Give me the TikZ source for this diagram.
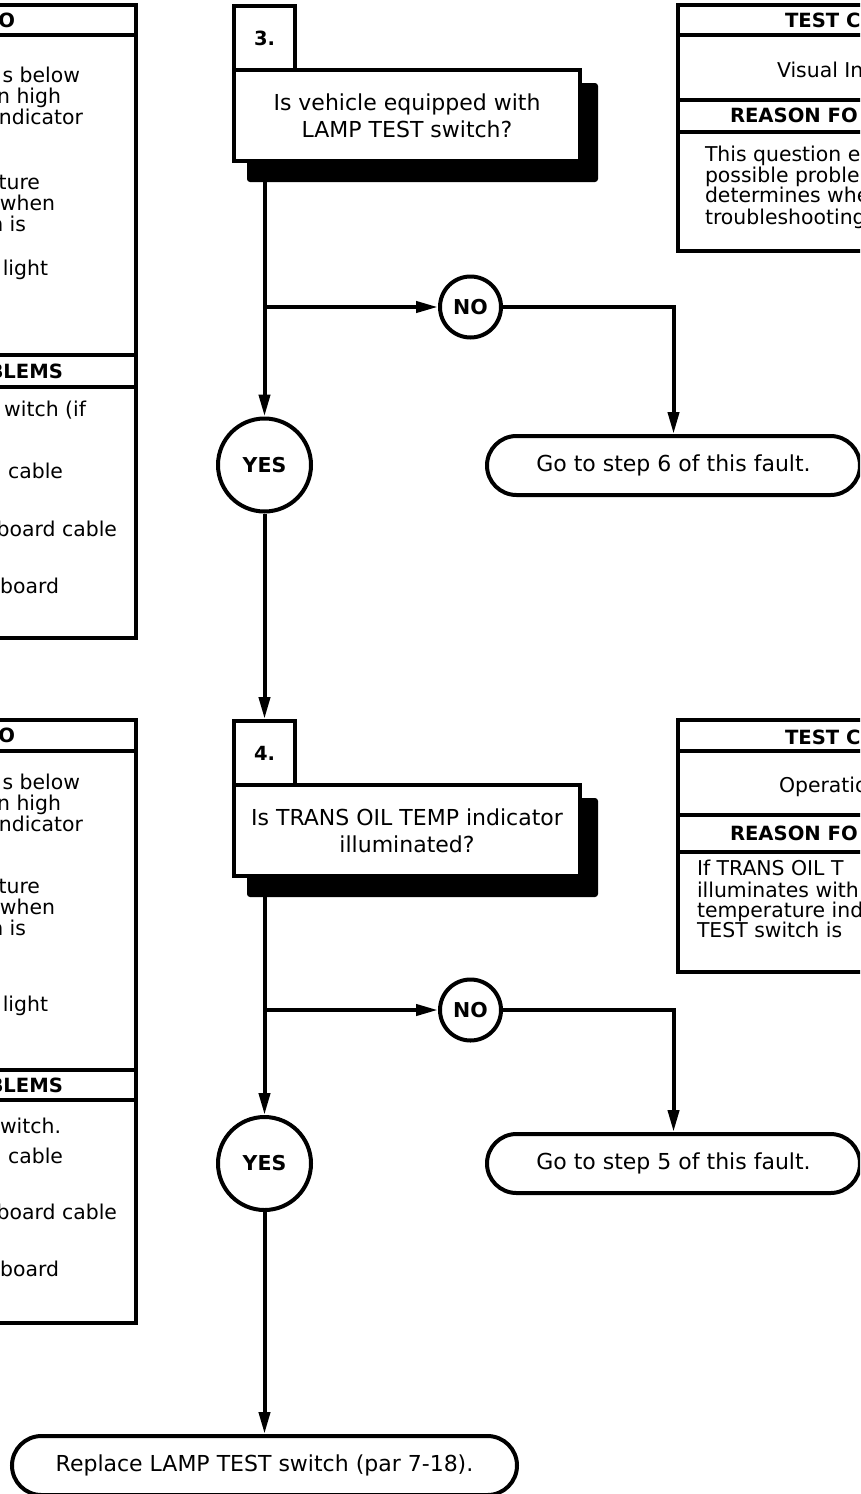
\documentclass[tikz,border=0pt]{standalone}
\usepackage{fontspec}
\setmainfont{DejaVu Sans}
\usetikzlibrary{
  arrows.meta,
  positioning,
  shapes.misc,
  backgrounds
}

\newcommand{\bodyfont}{\fontsize{20.4}{21}\selectfont}
\newcommand{\askfont}{\fontsize{22}{27}\selectfont}
\newcommand{\headfont}{\fontsize{19.6}{21}\selectfont\bfseries}

\begin{document}
\begin{tikzpicture}[
  x=1pt, y=-1pt,
  line width=4pt,
  flow/.style={-{Triangle[length=22pt,width=11pt]}},
  stepnum/.style={
    draw, fill=white, inner sep=0pt,
    minimum width=61pt, minimum height=64pt,
    font=\fontsize{19.5}{20}\selectfont\bfseries
  },
  askbox/.style={
    draw, fill=white, inner sep=0pt, align=center,
    minimum width=346pt, minimum height=91pt,
    font=\askfont
  },
  answer/.style={
    circle, draw, fill=white, inner sep=0pt,
    font=\fontsize{20.5}{22}\selectfont\bfseries
  },
  endbox/.style={
    rounded rectangle, draw, fill=white, inner sep=0pt,
    minimum height=59pt, font=\askfont
  },
  cuttext/.style={inner sep=0pt, font=\bodyfont},
  cuthead/.style={inner sep=0pt, font=\headfont}
]
\useasboundingbox (0,0) rectangle (860,1494);
\clip (0,0) rectangle (860,1494);

% LEFT PANEL, STEP 3
\draw (-20,4.5) rectangle (136,638);
\draw (-20,35) -- (136,35);
\draw (-20,355) -- (136,355);
\draw (-20,387) -- (136,387);
\node[cuthead, anchor=mid east] (l3h1) at (17,25) {O};
\node[cuttext, anchor=mid east] (l3a) at (82,80) {s below};
\node[cuttext, anchor=mid east] (l3b) at (63,101) {n high};
\node[cuttext, anchor=mid east] (l3c) at (85,122) {ndicator};
\node[cuttext, anchor=mid east] (l3d) at (42,187) {ture};
\node[cuttext, anchor=mid east] (l3e) at (57,208) {when};
\node[cuttext, anchor=mid east] (l3f) at (28,229) {n is};
\node[cuttext, anchor=mid east] (l3g) at (50,273) {light};
\node[cuthead, anchor=mid east] (l3h2) at (65,376) {BLEMS};
\node[cuttext, anchor=mid east] (l3i) at (88,414) {witch (if};
\node[cuttext, anchor=mid east] (l3j) at (65,476) {cable};
\node[cuttext, anchor=mid east] (l3k) at (119,534) {board cable};
\node[cuttext, anchor=mid east] (l3l) at (61,591) {board};

% STEP 3
\node[stepnum] (n3) at (264.5,38) {3.};
\node[askbox] (q3) at (407,115.5) {Is vehicle equipped with\\LAMP TEST switch?};
\begin{scope}[on background layer]
  \fill[rounded corners=3pt] ([shift={(15,15)}]q3.north west) rectangle ([shift={(16,19)}]q3.south east);
\end{scope}

\node[answer, minimum size=61pt] (no3) at (470.5,307) {NO};
\node[answer, minimum size=93pt] (yes3) at (264.5,465) {YES};
\node[endbox, minimum width=373pt] (go6) at (673.5,465.5) {Go to step 6 of this fault.};

\draw[flow] (n3 |- q3.south) -- (yes3);
\draw[flow] (yes3 |- no3) -- (no3);
\draw[flow] (no3) -| (go6);

% RIGHT PANEL, STEP 3
\draw (678,5) rectangle (900,251);
\draw (678,35) -- (900,35);
\draw (678,100) -- (900,100);
\draw (678,132) -- (900,132);
\node[cuthead, anchor=mid west] (r3h1) at (783,25) {TEST C};
\node[cuttext, anchor=mid west] (r3t) at (775,75) {Visual In};
\node[cuthead, anchor=mid west] (r3h2) at (728,120) {REASON FO};
\node[cuttext, anchor=mid west] (r3a) at (703,159) {This question e};
\node[cuttext, anchor=mid west] (r3b) at (703,180) {possible problem};
\node[cuttext, anchor=mid west] (r3c) at (703,200) {determines whe};
\node[cuttext, anchor=mid west] (r3d) at (703,222) {troubleshooting};

% LEFT PANEL, STEP 4
\draw (-20,720) rectangle (136,1323);
\draw (-20,751) -- (136,751);
\draw (-20,1070) -- (136,1070);
\draw (-20,1100) -- (136,1100);
\node[cuthead, anchor=mid east] (l4h1) at (17,740) {O};
\node[cuttext, anchor=mid east] (l4a) at (82,787) {s below};
\node[cuttext, anchor=mid east] (l4b) at (63,808) {n high};
\node[cuttext, anchor=mid east] (l4c) at (85,829) {ndicator};
\node[cuttext, anchor=mid east] (l4d) at (42,891) {ture};
\node[cuttext, anchor=mid east] (l4e) at (57,912) {when};
\node[cuttext, anchor=mid east] (l4f) at (28,933) {n is};
\node[cuttext, anchor=mid east] (l4g) at (50,1009) {light};
\node[cuthead, anchor=mid east] (l4h2) at (65,1090) {BLEMS};
\node[cuttext, anchor=mid east] (l4i) at (63,1131) {witch.};
\node[cuttext, anchor=mid east] (l4j) at (65,1161) {cable};
\node[cuttext, anchor=mid east] (l4k) at (119,1217) {board cable};
\node[cuttext, anchor=mid east] (l4l) at (61,1274) {board};

% STEP 4
\node[stepnum] (n4) at (264.5,753) {4.};
\node[askbox] (q4) at (407,830.5) {Is TRANS OIL TEMP indicator\\illuminated?};
\begin{scope}[on background layer]
  \fill[rounded corners=3pt] ([shift={(15,15)}]q4.north west) rectangle ([shift={(16,19)}]q4.south east);
\end{scope}

\node[answer, minimum size=61pt] (no4) at (470.5,1010) {NO};
\node[answer, minimum size=93pt] (yes4) at (264.5,1163.5) {YES};
\node[endbox, minimum width=373pt] (go5) at (673.5,1163.5) {Go to step 5 of this fault.};
\node[endbox, minimum width=505pt] (fix) at (264.5,1465.5) {Replace LAMP TEST switch (par 7-18).};

\draw[flow] (yes3) -- (n4);
\draw[flow] (n4 |- q4.south) -- (yes4);
\draw[flow] (yes4 |- no4) -- (no4);
\draw[flow] (no4) -| (go5);
\draw[flow] (yes4) -- (fix);

% RIGHT PANEL, STEP 4
\draw (678,720) rectangle (900,972);
\draw (678,751) -- (900,751);
\draw (678,815) -- (900,815);
\draw (678,852) -- (900,852);
\node[cuthead, anchor=mid west] (r4h1) at (783,742) {TEST C};
\node[cuttext, anchor=mid west] (r4t) at (777,790) {Operatio};
\node[cuthead, anchor=mid west] (r4h2) at (728,838) {REASON FO};
\node[cuttext, anchor=mid west] (r4a) at (695,873) {If TRANS OIL T};
\node[cuttext, anchor=mid west] (r4b) at (695,895) {illuminates with};
\node[cuttext, anchor=mid west] (r4c) at (695,915) {temperature ind};
\node[cuttext, anchor=mid west] (r4d) at (695,935) {TEST switch is};

\end{tikzpicture}
\end{document}
